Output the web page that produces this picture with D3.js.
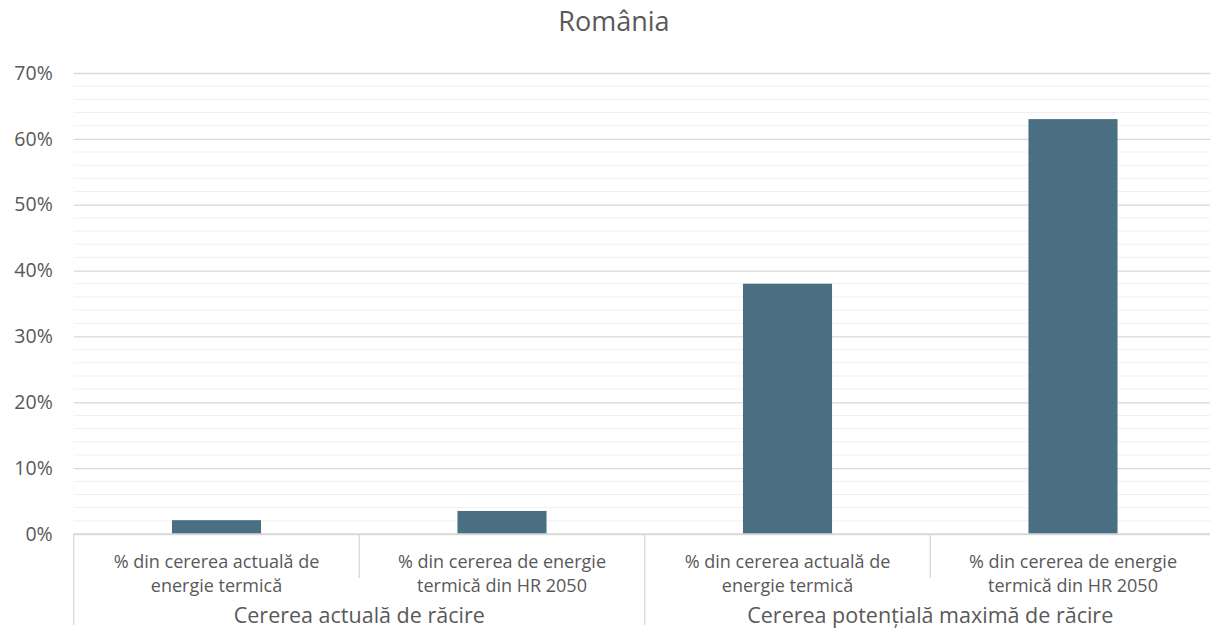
<!DOCTYPE html>
<html>
<head>
<meta charset="utf-8">
<script src="https://cdn.jsdelivr.net/npm/d3@7"></script>
<style>
  body { margin: 0; background: #fff; }
  text { font-family: "Open Sans", sans-serif; fill: #595959; }
</style>
</head>
<body>
<div id="chart"></div>
<script>
// data
const categories = [
  ["% din cererea actuală de", "energie termică"],
  ["% din cererea de energie", "termică din HR 2050"],
  ["% din cererea actuală de", "energie termică"],
  ["% din cererea de energie", "termică din HR 2050"]
];
const groups = ["Cererea actuală de răcire", "Cererea potențială maximă de răcire"];
const values = [2.1, 3.5, 38.0, 63.0];
const yTicks = [0, 10, 20, 30, 40, 50, 60, 70];
const title = "România";

const svgWidth = 1210;
const svgHeight = 632;
const margin = { top: 73, left: 73.75, bottom: 98 };
const plotRight = 1215.75;

const svg = d3.select("#chart").append("svg")
  .attr("width", svgWidth)
  .attr("height", svgHeight);

const idx = categories.map((d, i) => i);

const x = d3.scaleBand()
  .domain(idx)
  .range([margin.left, plotRight])
  .paddingInner(0.688)
  .paddingOuter(0.344);

const y = d3.scaleLinear()
  .domain([0, 70])
  .range([svgHeight - margin.bottom, margin.top]);

// minor gridlines every 2%
const minor = d3.range(0, 71, 2).filter(v => v % 10 !== 0);
svg.append("g").selectAll("line").data(minor).join("line")
  .attr("x1", margin.left).attr("x2", plotRight)
  .attr("y1", d => y(d)).attr("y2", d => y(d))
  .attr("stroke", "#f0f0f0").attr("stroke-width", 1);

// major gridlines + labels
const yAxis = d3.axisLeft(y)
  .tickValues(yTicks)
  .tickFormat(d => d + "%")
  .tickSize(-(plotRight - margin.left))
  .tickPadding(21);

svg.append("g")
  .attr("transform", `translate(${margin.left},0)`)
  .call(yAxis)
  .call(g => g.select(".domain").remove())
  .call(g => g.selectAll(".tick line").attr("stroke", "#d9d9d9").attr("stroke-width", 1.3))
  .call(g => g.selectAll(".tick text")
    .style("font-size", "19.5px")
    .attr("fill", "#595959")
    .style("font-family", "'Open Sans', sans-serif"));

// bars
svg.append("g").selectAll("rect").data(values).join("rect")
  .attr("x", (d, i) => x(i))
  .attr("width", x.bandwidth())
  .attr("y", d => y(d))
  .attr("height", d => y(0) - y(d))
  .attr("fill", "#4a6e82");

// baseline
const base = y(0);
svg.append("line")
  .attr("x1", margin.left).attr("x2", plotRight)
  .attr("y1", base).attr("y2", base)
  .attr("stroke", "#d9d9d9").attr("stroke-width", 1.3);

// category dividers
const step = x.step();
const edges = d3.range(0, categories.length + 1).map(i => margin.left + i * step);
svg.append("g").selectAll("line").data(edges).join("line")
  .attr("x1", d => d).attr("x2", d => d)
  .attr("y1", base)
  .attr("y2", (d, i) => i % 2 === 0 ? 625 : 578)
  .attr("stroke", "#d9d9d9").attr("stroke-width", 1.3);

// category labels
const catG = svg.append("g").selectAll("text").data(categories).join("text")
  .attr("text-anchor", "middle")
  .style("font-size", "18px");
catG.each(function (d, i) {
  const t = d3.select(this);
  const cx = x(i) + x.bandwidth() / 2;
  d.forEach((line, j) => {
    t.append("tspan").attr("x", cx).attr("y", 568 + j * 24).text(line);
  });
});

// group labels
svg.append("g").selectAll("text").data(groups).join("text")
  .attr("x", (d, i) => margin.left + (i * 2 + 1) * step)
  .attr("y", 623)
  .attr("text-anchor", "middle")
  .style("font-size", "21.5px")
  .text(d => d);

// title
svg.append("text")
  .attr("x", 614)
  .attr("y", 31)
  .attr("text-anchor", "middle")
  .style("font-size", "27px")
  .text(title);
</script>
</body>
</html>
